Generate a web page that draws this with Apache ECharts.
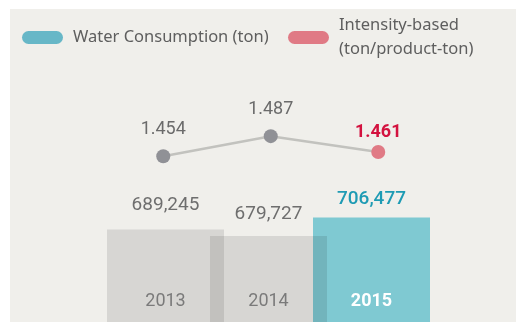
<!DOCTYPE html>
<html>
<head>
<meta charset="utf-8">
<script src="https://cdn.jsdelivr.net/npm/echarts@6/dist/echarts.min.js"></script>
<style>
  html, body { margin: 0; padding: 0; background: #ffffff; }
  #panel { position: absolute; left: 10px; top: 9px; width: 506px; height: 320px; background: #f0efeb; }
  #chart { position: absolute; left: 0; top: 0; width: 517px; height: 322px; }
</style>
</head>
<body>
<div id="panel"></div>
<div id="chart"></div>
<script>
// Water use by year, with consumption intensity per product-ton
const years = ['2013', '2014', '2015'];
const waterTon = [689245, 679727, 706477];
const intensity = [1.454, 1.487, 1.461];
const latest = years.length - 1;

const NUM_FONT = 'Roboto';
const TEXT_FONT = '"Noto Sans", sans-serif';
const pill = 'path://M6.5,0 H34.5 A6.5,6.5 0 0 1 34.5,13 H6.5 A6.5,6.5 0 0 1 6.5,0 Z';
// small per-year nudges of the value labels above the bars
const barLabelGap = [15, 12, 9];

const chart = echarts.init(document.getElementById('chart'), null, { renderer: 'canvas' });

const barItem = (v, i) => ({ value: v, label: { distance: barLabelGap[i] } });

chart.setOption({
  backgroundColor: 'transparent',
  animation: false,
  legend: [
    {
      left: 22, top: 25.5, padding: 0,
      icon: pill, itemWidth: 41, itemHeight: 13, symbolKeepAspect: false,
      selectedMode: false,
      data: [{ name: 'Water Consumption (ton)', itemStyle: { color: '#67b7c7' } }],
      textStyle: { color: '#5e5e5e', fontFamily: TEXT_FONT, fontSize: 16.5, lineHeight: 24, padding: [0, 0, 0, 5] }
    },
    {
      left: 288, top: 1.5, padding: 0,
      icon: pill, itemWidth: 41, itemHeight: 13, symbolKeepAspect: false,
      selectedMode: false,
      data: [{ name: 'Intensity-based', itemStyle: { color: '#e07a85' } }],
      formatter: () => 'Intensity-based\n(ton/product-ton)',
      textStyle: { color: '#5e5e5e', fontFamily: TEXT_FONT, fontSize: 16.5, lineHeight: 24, padding: [24, 0, 0, 5] }
    }
  ],
  grid: [
    { left: 114, right: 94, top: 9, bottom: 0 },
    { left: 109.5, right: 85, top: 9, bottom: 0 }
  ],
  xAxis: [
    {
      type: 'category', data: years, gridIndex: 0, z: 10,
      axisLine: { show: false }, axisTick: { show: false }, splitLine: { show: false },
      axisLabel: {
        inside: true, margin: 12,
        fontFamily: NUM_FONT, fontSize: 18,
        formatter: (v, i) => i === latest ? '{hi|' + v + '}' : '{lo|' + v + '}',
        rich: {
          lo: { color: '#7a7a7a', fontFamily: NUM_FONT, fontSize: 18 },
          hi: { color: '#ffffff', fontFamily: NUM_FONT, fontSize: 18, fontWeight: 'bold' }
        }
      }
    },
    { type: 'category', data: years, gridIndex: 1, show: false }
  ],
  yAxis: [
    { type: 'value', gridIndex: 0, min: 555500, max: 1007500, show: false },
    { type: 'value', gridIndex: 1, min: 1.1818, max: 1.6958, show: false }
  ],
  series: [
    {
      name: 'Water Consumption (ton)',
      type: 'bar', xAxisIndex: 0, yAxisIndex: 0, clip: false,
      barWidth: 117, barGap: '-100%', z: 2,
      data: waterTon.map((v, i) => i === latest ? barItem(v, i) : '-'),
      itemStyle: { color: '#7fc9d2' },
      label: {
        show: true, position: 'top',
        fontFamily: NUM_FONT, fontSize: 19, color: '#1e9bb4', fontWeight: 500,
        formatter: p => p.value.toLocaleString('en-US')
      }
    },
    {
      name: 'Earlier years',
      type: 'bar', xAxisIndex: 0, yAxisIndex: 0, clip: false,
      barWidth: 117, barGap: '-100%', z: 3,
      data: waterTon.map((v, i) => i === latest ? '-' : barItem(v, i)),
      itemStyle: { color: 'rgba(0,0,0,0.1)' },
      label: {
        show: true, position: 'top',
        fontFamily: NUM_FONT, fontSize: 19, color: '#6e6e6e',
        formatter: p => p.value.toLocaleString('en-US')
      }
    },
    {
      name: 'Intensity-based',
      type: 'line', xAxisIndex: 1, yAxisIndex: 1, z: 5, clip: false,
      symbol: 'circle', symbolSize: 14,
      lineStyle: { color: '#c2c2be', width: 2.5 },
      itemStyle: { color: '#909196' },
      data: intensity.map((v, i) => i === latest
        ? { value: v, itemStyle: { color: '#e07a85' },
            label: { color: '#d3123f', fontWeight: 'bold', distance: 3 } }
        : v),
      label: {
        show: true, position: 'top', distance: 11,
        fontFamily: NUM_FONT, fontSize: 18, color: '#6b6b6b',
        formatter: p => p.value.toFixed(3)
      }
    }
  ]
});
</script>
</body>
</html>
